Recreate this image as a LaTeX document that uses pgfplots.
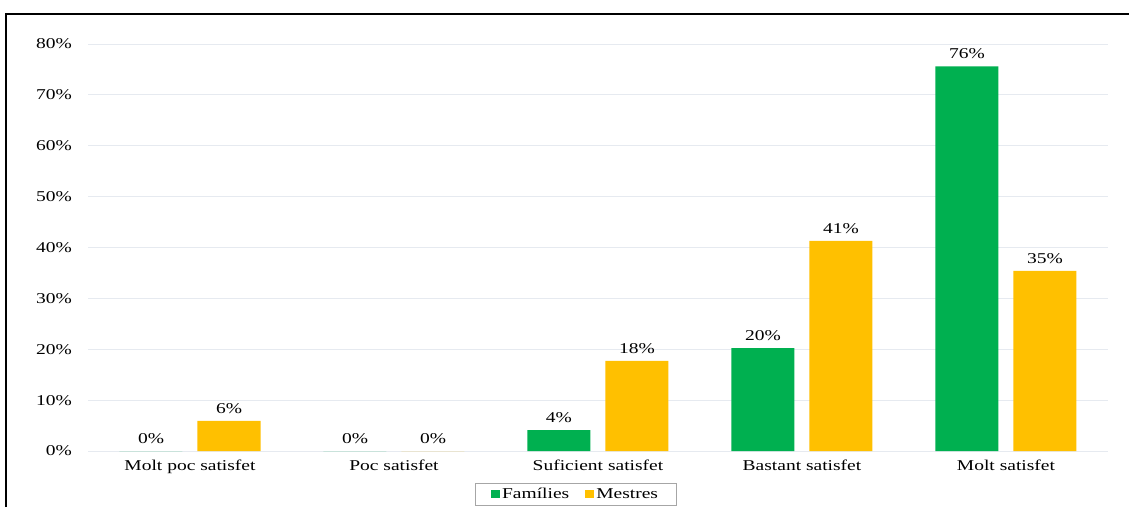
\documentclass[border=0pt]{standalone}
\usepackage{pgfplots}
\pgfplotsset{compat=1.18}
\usepackage{fontspec}
\setmainfont[FakeStretch=1.3]{Liberation Serif}
\definecolor{cg}{HTML}{00B050}
\definecolor{cy}{HTML}{FFC000}
\definecolor{gridc}{HTML}{E6EAF0}
\newcommand{\lf}{\fontsize{15}{17}\selectfont}
\begin{document}
\begin{tikzpicture}[x=1pt,y=1pt]
\useasboundingbox (0,0) rectangle (1129,507);
\fill[white] (0,0) rectangle (1129,507);
\draw[line width=2pt] (6,0) -- (6,493) -- (1130,493);
\begin{axis}[
  at={(88pt,56pt)}, anchor=south west, scale only axis,
  width=1020pt, height=407pt,
  xmin=-0.5, xmax=4.5, ymin=0, ymax=80,
  /pgf/number format/assume math mode=true,
  xtick={0,1,2,3,4},
  xticklabels={Molt poc satisfet, Poc satisfet, Suficient satisfet, Bastant satisfet, Molt satisfet},
  ytick={0,10,...,80},
  yticklabel={\pgfmathprintnumber{\tick}\%},
  ymajorgrids, grid style={gridc, line width=1pt},
  axis line style={draw=none}, major tick length=0pt,
  ticklabel style={font=\lf},
  yticklabel style={inner sep=0pt, xshift=-16pt},
  xticklabel style={inner sep=0pt, yshift=-9pt},
  ybar=15pt, bar width=63pt,
  nodes near coords={\pgfmathprintnumber[fixed,precision=0,assume math mode=true]{\pgfplotspointmeta}\%},
  nodes near coords style={font=\lf, inner sep=0pt, yshift=7pt},
  legend style={at={(0.478,-0.106)}, anchor=center, legend columns=2,
    draw=gray!70, font=\lf, inner ysep=3pt, inner xsep=16pt,
    /tikz/every even column/.append style={column sep=14pt}},
  legend image code/.code={\fill[#1] (0pt,-4pt) rectangle (9pt,4pt);},
]
\addplot[fill=cg, draw=none] coordinates {(0,0) (1,0) (2,4.1) (3,20.2) (4,75.6)};
\addplot[fill=cy, draw=none] coordinates {(0,5.9) (1,0) (2,17.7) (3,41.3) (4,35.4)};
\legend{Famílies, Mestres}
\end{axis}
\end{tikzpicture}
\end{document}
